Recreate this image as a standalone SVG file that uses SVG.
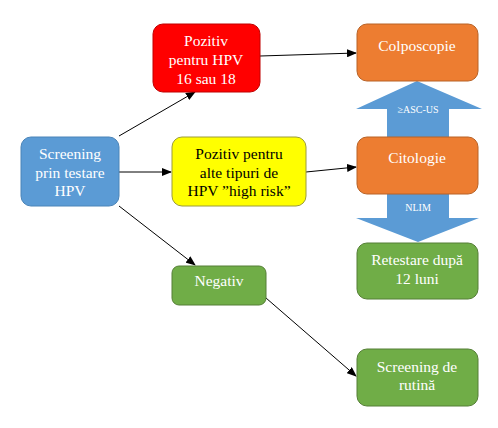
<svg xmlns="http://www.w3.org/2000/svg" width="498" height="428" viewBox="0 0 498 428">
<style>
.t{font-family:'Liberation Serif','Times New Roman',Times,serif;font-size:15.5px;text-anchor:middle;fill:#fff}
.k{fill:#000}
.s{font-family:'Liberation Serif','Times New Roman',Times,serif;font-size:10px;text-anchor:middle;fill:#fff}
.c{stroke:#000;stroke-width:1;fill:none;marker-end:url(#ah)}
.blue{fill:#5B9BD5;stroke:#4A84B8}
.red{fill:#FF0000;stroke:#C00000}
.yel{fill:#FFFF00;stroke:#9C9C3A}
.org{fill:#ED7D31;stroke:#B86226}
.grn{fill:#70AD47;stroke:#557F36}
</style>
<defs>
<marker id="ah" markerWidth="10" markerHeight="8" refX="9" refY="4" orient="auto" markerUnits="userSpaceOnUse">
<path d="M0,0 L10,4 L0,8 Z" fill="#000"/>
</marker>
</defs>
<rect width="498" height="428" fill="#fff"/>
<g id="big-arrows">
<polygon points="417,81 482,109 449,109 449,140 387,140 387,109 356,109" fill="#5B9BD5"/>
<polygon points="387,190 449,190 449,218 479,218 418,242 356,218 387,218" fill="#5B9BD5"/>
<text class="s" x="418" y="113">≥ASC-US</text>
<text class="s" x="418" y="211">NLIM</text>
</g>
<g id="connectors">
<line class="c" x1="119" y1="136" x2="195" y2="92"/>
<line class="c" x1="119" y1="172" x2="171" y2="172"/>
<line class="c" x1="119" y1="206" x2="195" y2="265"/>
<line class="c" x1="260" y1="56" x2="356" y2="53"/>
<line class="c" x1="306" y1="172" x2="356" y2="167"/>
<line class="c" x1="266" y1="298" x2="356" y2="376"/>
</g>
<g id="screening">
<rect class="blue" x="21" y="137" width="98" height="69" rx="10"/>
<text class="t" x="70" y="159">Screening</text>
<text class="t" x="70" y="178">prin testare</text>
<text class="t" x="70" y="196">HPV</text>
</g>
<g id="pozitiv1618">
<rect class="red" x="153" y="24" width="107" height="68" rx="10"/>
<text class="t" x="206" y="46">Pozitiv</text>
<text class="t" x="206" y="65">pentru HPV</text>
<text class="t" x="206" y="84">16 sau 18</text>
</g>
<g id="pozitiv-alte">
<rect class="yel" x="172" y="137" width="134" height="69" rx="10"/>
<text class="t k" x="239" y="159">Pozitiv pentru</text>
<text class="t k" x="239" y="178">alte tipuri de</text>
<text class="t k" x="239" y="196">HPV ”high risk”</text>
</g>
<g id="negativ">
<rect class="grn" x="172" y="266" width="94" height="39" rx="7"/>
<text class="t" x="219" y="286">Negativ</text>
</g>
<g id="colposcopie">
<rect class="org" x="357" y="24" width="121" height="57" rx="10"/>
<text class="t" x="417" y="51">Colposcopie</text>
</g>
<g id="citologie">
<rect class="org" x="357" y="137" width="121" height="57" rx="10"/>
<text class="t" x="417" y="163">Citologie</text>
</g>
<g id="retestare">
<rect class="grn" x="357" y="243" width="121" height="56" rx="10"/>
<text class="t" x="417" y="265">Retestare după</text>
<text class="t" x="417" y="284">12 luni</text>
</g>
<g id="rutina">
<rect class="grn" x="357" y="349" width="121" height="57" rx="10"/>
<text class="t" x="417" y="372">Screening de</text>
<text class="t" x="417" y="390">rutină</text>
</g>
</svg>
